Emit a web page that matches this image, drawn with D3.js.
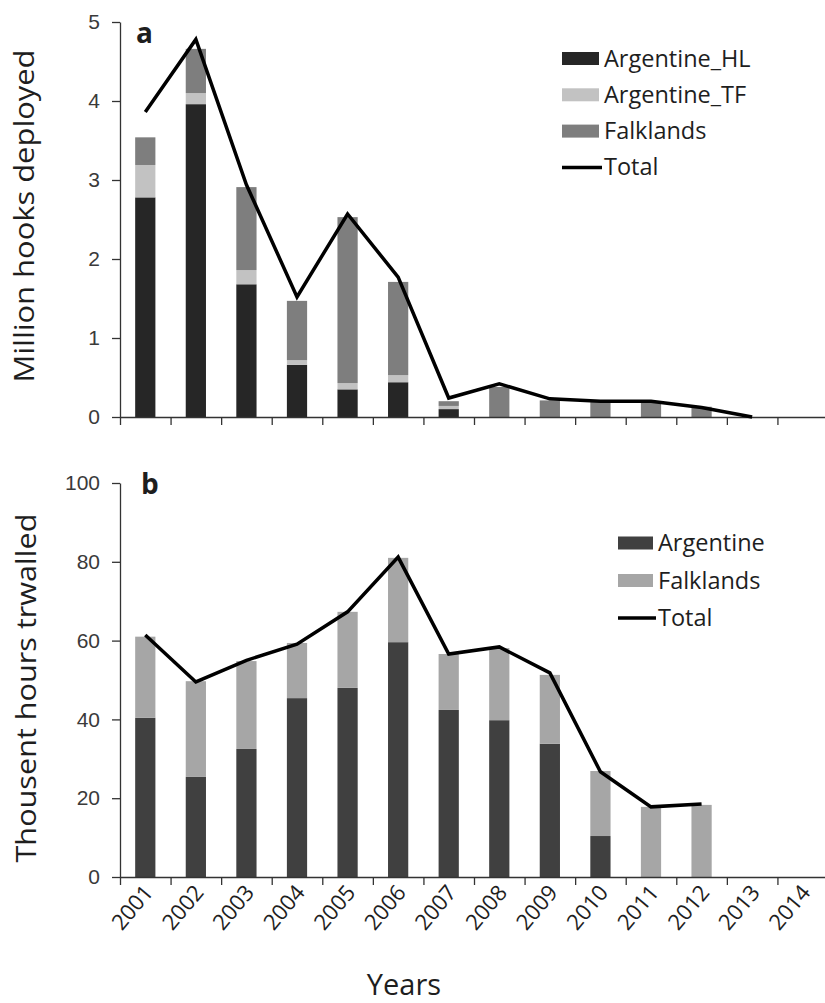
<!DOCTYPE html>
<html>
<head>
<meta charset="utf-8">
<script src="https://cdn.jsdelivr.net/npm/d3@7"></script>
<style>
  body { margin: 0; background: #fff; }
  svg { display: block; }
  .tick text { font-family: "Liberation Sans", Arial, sans-serif; font-size: 21px; fill: #3a3a3a; }
  .axis path, .axis line { stroke: #333; stroke-width: 1.3; }
  .lbl { font-family: "Open Sans", sans-serif; fill: #1e1e1e; }
</style>
</head>
<body>
<script>
// years on the x axis
const years = ['2001', '2002', '2003', '2004', '2005', '2006', '2007',
               '2008', '2009', '2010', '2011', '2012', '2013', '2014'];

// panel a: million hooks deployed
const hooksHL    = [2.78, 3.96, 1.68, 0.66, 0.35, 0.44, 0.10, 0, 0, 0, 0, 0, 0, 0];
const hooksTF    = [0.41, 0.14, 0.18, 0.06, 0.08, 0.09, 0.04, 0, 0, 0, 0, 0, 0, 0];
const hooksFalk  = [0.35, 0.56, 1.05, 0.75, 2.10, 1.18, 0.06, 0.38, 0.21, 0.19, 0.19, 0.13, 0, 0];
const hooksTotal = [3.86, 4.78, 2.94, 1.52, 2.57, 1.77, 0.24, 0.42, 0.23, 0.20, 0.20, 0.12, 0];
const hooksTicks = [0, 1, 2, 3, 4, 5];

// panel b: thousand hours trawled
const trawlArg   = [40.4, 25.4, 32.5, 45.4, 48.0, 59.6, 42.4, 39.8, 33.8, 10.4, 0, 0, 0, 0];
const trawlFalk  = [20.6, 24.3, 22.3, 14.0, 19.3, 21.4, 14.2, 18.3, 17.5, 16.5, 17.8, 18.3, 0, 0];
const trawlTotal = [61.4, 49.5, 55.0, 59.1, 67.3, 81.2, 56.6, 58.4, 51.8, 26.7, 17.8, 18.5];
const trawlTicks = [0, 20, 40, 60, 80, 100];

const svg = d3.select('body').append('svg')
  .attr('width', 825)
  .attr('height', 1003);

const x = d3.scaleBand().domain(years).range([120, 828]).paddingInner(0.6).paddingOuter(0.3);
const xEdge = d3.scaleLinear().domain([0, years.length]).range([120, 828]);

function drawPanel(opt) {
  const y = d3.scaleLinear().domain(opt.domain).range(opt.range);
  const g = svg.append('g');

  // stacked bars
  const keys = opt.series.map((s, i) => 'k' + i);
  const rows = years.map((yr, i) => {
    const r = { year: yr };
    opt.series.forEach((s, j) => r['k' + j] = s.values[i]);
    return r;
  });
  const stacked = d3.stack().keys(keys)(rows);
  g.selectAll('g.layer')
    .data(stacked)
    .enter().append('g')
      .attr('class', 'layer')
      .attr('fill', (d, i) => opt.series[i].color)
    .selectAll('rect')
    .data(d => d)
    .enter().append('rect')
      .attr('x', d => x(d.data.year))
      .attr('width', x.bandwidth())
      .attr('y', d => y(d[1]))
      .attr('height', d => y(d[0]) - y(d[1]));

  // axes
  g.append('g')
    .attr('class', 'axis')
    .attr('transform', 'translate(120,0)')
    .call(d3.axisLeft(y).tickValues(opt.ticks).tickFormat(d3.format('d'))
      .tickSize(8).tickSizeOuter(0).tickPadding(12));
  g.append('g')
    .attr('class', 'axis')
    .attr('transform', `translate(0,${opt.range[0]})`)
    .call(d3.axisBottom(xEdge).tickValues(d3.range(0, years.length + 1)).tickSize(8).tickSizeOuter(0).tickFormat(''));

  // total line
  const line = d3.line()
    .x((d, i) => x(years[i]) + x.bandwidth() / 2)
    .y(d => y(d));
  g.append('path')
    .datum(opt.total)
    .attr('d', line)
    .attr('fill', 'none')
    .attr('stroke', '#000')
    .attr('stroke-width', 3.5)
    .attr('stroke-linejoin', 'miter');

  // panel letter
  g.append('text')
    .attr('class', 'lbl')
    .attr('x', opt.letterPos[0])
    .attr('y', opt.letterPos[1])
    .attr('font-size', 28)
    .attr('font-weight', 'bold')
    .attr('fill', '#111')
    .text(opt.letter);

  // y title
  g.append('text')
    .attr('class', 'lbl')
    .attr('transform', `translate(${opt.titlePos[0]},${opt.titlePos[1]}) rotate(-90)`)
    .attr('text-anchor', 'middle')
    .attr('font-size', 28)
    .attr('textLength', opt.titleLen)
    .attr('lengthAdjust', 'spacingAndGlyphs')
    .text(opt.title);

  // legend
  const leg = g.append('g');
  const items = opt.series.map(s => ({ name: s.name, color: s.color, line: false }))
    .concat([{ name: 'Total', line: true }]);
  const rowsLeg = leg.selectAll('g')
    .data(items)
    .enter().append('g')
      .attr('transform', (d, i) => `translate(${opt.legend[0]},${opt.legend[1] + i * opt.legend[2]})`);
  rowsLeg.filter(d => !d.line).append('rect')
    .attr('x', 0).attr('y', -6.5)
    .attr('width', opt.legend[3]).attr('height', 13)
    .attr('fill', d => d.color);
  rowsLeg.filter(d => d.line).append('line')
    .attr('x1', 0).attr('x2', opt.legend[3] + 3)
    .attr('stroke', '#000').attr('stroke-width', 3.5);
  rowsLeg.append('text')
    .attr('class', 'lbl')
    .attr('x', opt.legend[3] + 5)
    .attr('y', 8)
    .attr('font-size', 23.5)
    .text(d => d.name);

  return g;
}

drawPanel({
  domain: [0, 5], range: [417, 22], ticks: hooksTicks,
  series: [
    { name: 'Argentine_HL', color: '#262626', values: hooksHL },
    { name: 'Argentine_TF', color: '#c2c2c2', values: hooksTF },
    { name: 'Falklands', color: '#7e7e7e', values: hooksFalk }
  ],
  total: hooksTotal,
  letter: 'a', letterPos: [136, 43],
  title: 'Million hooks deployed', titlePos: [34, 216], titleLen: 333,
  legend: [562, 58.5, 36.3, 37]
});

drawPanel({
  domain: [0, 100], range: [877, 483], ticks: trawlTicks,
  series: [
    { name: 'Argentine', color: '#404040', values: trawlArg },
    { name: 'Falklands', color: '#a6a6a6', values: trawlFalk }
  ],
  total: trawlTotal,
  letter: 'b', letterPos: [141, 494],
  title: 'Thousent hours trwalled', titlePos: [36, 688], titleLen: 349,
  legend: [618, 543, 37.5, 35]
});

// rotated year labels
svg.append('g').selectAll('text')
  .data(years)
  .enter().append('text')
    .attr('class', 'lbl')
    .attr('font-size', 22)
    .attr('text-anchor', 'end')
    .attr('transform', d => `translate(${x(d) + x.bandwidth() / 2 + 9},${893}) rotate(-50)`)
    .text(d => d);

// x title
svg.append('text')
  .attr('class', 'lbl')
  .attr('x', 404)
  .attr('y', 995)
  .attr('text-anchor', 'middle')
  .attr('font-size', 29)
  .text('Years');
</script>
</body>
</html>
